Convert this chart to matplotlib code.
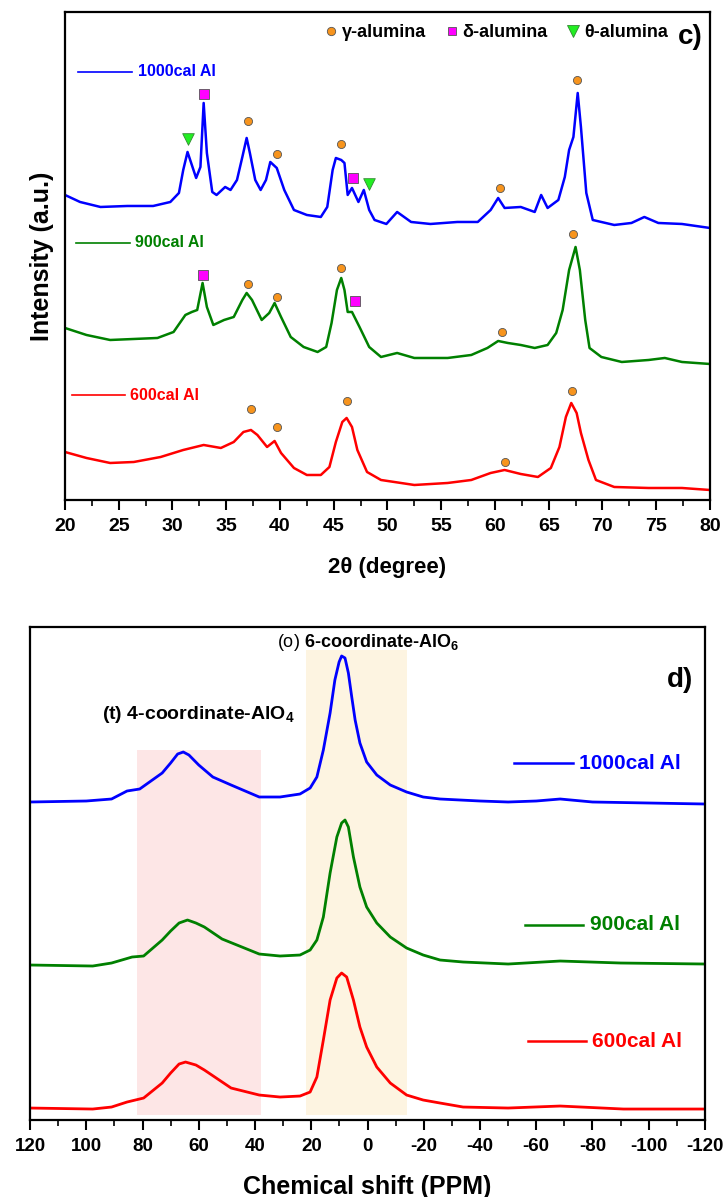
import matplotlib
matplotlib.use("Agg")
import matplotlib.pyplot as plt
from matplotlib.lines import Line2D
from matplotlib.ticker import MultipleLocator

plt.rcParams["font.family"] = ["Liberation Sans", "DejaVu Sans"]
plt.rcParams["font.weight"] = "bold"
plt.rcParams["axes.unicode_minus"] = False
plt.rcParams["mathtext.fontset"] = "custom"
plt.rcParams["mathtext.rm"] = "Liberation Sans:weight=normal"
plt.rcParams["mathtext.bf"] = "Liberation Sans:weight=bold"

# ---- XRD (panel c): 2theta [deg] and intensity [a.u., offset per sample] ----
xrd_1000_x = [20.0, 21.4, 23.3, 25.8, 28.2, 29.8, 30.6, 31.0, 31.4, 31.8, 32.2, 32.6, 32.9, 33.2,
              33.7, 34.1, 34.9, 35.4, 36.0, 36.5, 36.9, 37.2, 37.7, 38.2, 38.7, 39.1, 39.7, 40.4,
              41.3, 42.5, 43.8, 44.4, 44.9, 45.2, 45.7, 46.0, 46.3, 46.7, 47.3, 47.8, 48.3, 48.8,
              49.9, 50.9, 52.2, 54.0, 56.5, 58.4, 59.6, 60.3, 60.9, 62.4, 63.7, 64.3, 64.9, 65.9,
              66.5, 66.9, 67.3, 67.7, 68.0, 68.5, 69.1, 71.1, 72.7, 73.9, 75.2, 77.4, 80.0]
xrd_1000_y = [305, 298, 293, 294, 294, 298, 307, 330, 348, 335, 322, 333, 397, 347,
              308, 305, 313, 310, 320, 343, 362, 347, 320, 310, 320, 338, 332, 310,
              290, 285, 283, 293, 330, 342, 340, 337, 305, 312, 298, 310, 290, 280,
              276, 288, 278, 276, 278, 278, 290, 302, 292, 293, 288, 305, 292, 300,
              323, 350, 363, 407, 373, 307, 280, 275, 277, 283, 277, 276, 272]

xrd_900_x = [20.0, 22.0, 24.2, 26.4, 28.6, 30.1, 31.2, 31.8, 32.3, 32.8, 33.2, 33.8, 34.8, 35.7,
             36.5, 36.9, 37.4, 38.3, 39.0, 39.5, 40.1, 41.0, 42.2, 43.5, 44.3, 44.8, 45.3, 45.7,
             46.0, 46.3, 46.7, 47.4, 48.3, 49.4, 50.9, 52.5, 55.6, 57.8, 59.3, 60.3, 61.2, 62.4,
             63.7, 64.9, 65.7, 66.3, 66.9, 67.5, 67.9, 68.4, 68.8, 69.9, 71.8, 74.3, 75.8, 77.4, 80.0]
xrd_900_y = [172, 165, 160, 161, 162, 168, 185, 188, 190, 217, 193, 175, 180, 183,
             200, 207, 200, 180, 187, 197, 183, 163, 153, 148, 153, 177, 210, 222,
             210, 188, 188, 173, 153, 143, 147, 142, 142, 145, 152, 159, 157, 155,
             152, 155, 167, 190, 230, 253, 230, 180, 152, 143, 138, 140, 142, 138, 136]

xrd_600_x = [20.0, 22.0, 24.2, 26.4, 28.9, 31.0, 32.9, 34.5, 35.7, 36.6, 37.3, 37.9, 38.8, 39.5,
             40.1, 41.3, 42.5, 43.8, 44.6, 45.2, 45.8, 46.2, 46.7, 47.2, 48.1, 49.4, 52.5, 55.6,
             57.8, 59.6, 60.9, 62.4, 64.0, 65.2, 66.0, 66.6, 67.1, 67.6, 68.0, 68.7, 69.4, 71.1,
             74.3, 77.4, 80.0]
xrd_600_y = [48, 42, 37, 38, 43, 50, 55, 52, 58, 68, 70, 65, 53, 59,
             47, 32, 25, 25, 33, 58, 78, 82, 73, 50, 28, 20, 15, 17,
             20, 27, 30, 26, 23, 32, 53, 83, 97, 87, 67, 40, 20, 13,
             12, 12, 10]

# phase markers (2theta, intensity)
gamma_x = [37.0, 39.7, 45.7, 60.5, 67.6, 37.0, 39.7, 45.7, 60.7, 67.3, 37.3, 39.7, 46.2, 60.9, 67.2]
gamma_y = [379, 346, 356, 312, 420, 216, 203, 232, 168, 266, 91, 73, 99, 38, 109]
delta_x = [32.9, 46.8, 32.8, 47.0]
delta_y = [406, 322, 225, 199]
theta_x = [31.4, 48.3]
theta_y = [361, 316]

# ---- 27Al NMR (panel d): chemical shift [ppm] and intensity ----
nmr_1000_x = [120, 100, 91, 85.5, 81, 73, 70, 67.5, 65.5, 63.5, 60, 55, 48.5, 38.5, 31.1, 24.0,
              20.4, 18.0, 15.7, 13.3, 11.6, 10.1, 9.2, 8.0, 6.8, 5.6, 4.4, 2.7, 0.3, -3.3, -8.1,
              -13.9, -19.8, -25.8, -40, -50, -60, -68.5, -80, -100, -120]
nmr_1000_y = [318, 319, 321, 329, 331, 347, 357, 366, 368, 365, 355, 343, 335, 323, 323, 326,
              332, 343, 370, 407, 440, 458, 464, 462, 447, 423, 400, 377, 358, 345, 335,
              328, 323, 321, 319, 318, 319, 321, 318, 317, 316]

nmr_900_x = [120, 97.7, 91, 83.7, 79.6, 73, 70, 67, 64, 61, 58, 51.7, 38.5, 31.1, 24.0, 20.4,
             18.0, 15.7, 13.3, 10.9, 9.2, 8.0, 6.8, 5.0, 2.7, 0.3, -3.3, -8.1, -13.9, -19.8,
             -25.8, -34, -50, -68.5, -90, -120]
nmr_900_y = [155, 154, 157, 163, 164, 180, 189, 197, 200, 197, 193, 181, 166, 164, 165, 170,
             180, 203, 247, 283, 297, 300, 293, 263, 233, 213, 197, 183, 172, 165,
             160, 158, 156, 159, 157, 156]

nmr_600_x = [120, 97.7, 91, 85.5, 79.6, 73, 70, 67, 64.7, 61, 58, 48.5, 38.5, 31.1, 24.0, 20.4,
             18.0, 15.7, 13.3, 10.9, 9.2, 7.4, 5.0, 2.7, 0.3, -3.3, -8.1, -13.9, -19.8, -25.8,
             -34, -50, -68.5, -91, -120]
nmr_600_y = [12, 11, 13, 18, 22, 37, 47, 56, 58, 55, 50, 32, 25, 23, 24, 28,
             43, 80, 120, 142, 147, 143, 120, 93, 73, 53, 37, 25, 20, 17,
             13, 12, 14, 11, 11]

BLUE, GREEN, RED = "#0000ff", "#008000", "#ff0000"
ORANGE, MAGENTA, LIME = "#f7941d", "#ff00ff", "#22ee22"

fig = plt.figure(figsize=(7.23, 11.97), dpi=100)

#%% panel c
ax1 = fig.add_axes([0.0899, 0.5823, 0.892, 0.4077])
ax1.plot(xrd_1000_x, xrd_1000_y, color=BLUE, lw=1.8)
ax1.plot(xrd_900_x, xrd_900_y, color=GREEN, lw=1.8)
ax1.plot(xrd_600_x, xrd_600_y, color=RED, lw=1.8)
ax1.scatter(gamma_x, gamma_y, s=34, marker="o", color=ORANGE, edgecolors="#555555", linewidths=0.6, zorder=3)
ax1.scatter(delta_x, delta_y, s=44, marker="s", color=MAGENTA, edgecolors="#555555", linewidths=0.6, zorder=3)
ax1.scatter(theta_x, theta_y, s=70, marker="v", color=LIME, edgecolors="#338833", linewidths=0.6, zorder=3)

ax1.set_xlim(20, 80)
ax1.set_ylim(0, 488)
ax1.set_yticks([])
ax1.xaxis.set_major_locator(MultipleLocator(5))
ax1.xaxis.set_minor_locator(MultipleLocator(2.5))
ax1.tick_params(axis="x", which="major", direction="out", length=7, width=1.5, labelsize=14, pad=6)
ax1.tick_params(axis="x", which="minor", direction="out", length=4, width=1.2)
for s in ax1.spines.values():
    s.set_linewidth(1.6)
ax1.set_xlabel("2θ (degree)", fontsize=16, fontweight="bold", labelpad=16)
ax1.set_ylabel("Intensity (a.u.)", fontsize=18, fontweight="bold", labelpad=8)

for y, xl, xt, name, c in [(0.877, (0.020, 0.104), 0.113, "1000cal Al", BLUE),
                           (0.527, (0.017, 0.101), 0.109, "900cal Al", GREEN),
                           (0.215, (0.011, 0.093), 0.101, "600cal Al", RED)]:
    ax1.plot(xl, [y, y], transform=ax1.transAxes, color=c, lw=1.2)
    ax1.text(xt, y, name, transform=ax1.transAxes, color=c, fontsize=11.5, fontweight="bold", va="center")

handles = [Line2D([], [], ls="", marker="o", ms=6, mfc=ORANGE, mec="#555555", mew=0.6),
           Line2D([], [], ls="", marker="s", ms=6, mfc=MAGENTA, mec="#555555", mew=0.6),
           Line2D([], [], ls="", marker="v", ms=8, mfc=LIME, mec="#338833", mew=0.6)]
ax1.legend(handles, ["γ-alumina", "δ-alumina", "θ-alumina"], loc="center", bbox_to_anchor=(0.667, 0.957),
           ncol=3, frameon=False, handletextpad=0.1, columnspacing=0.9, handlelength=1.0,
           prop={"size": 13, "weight": "bold"})
ax1.text(0.969, 0.949, "c)", transform=ax1.transAxes, fontsize=20, fontweight="bold", ha="center", va="center")

#%% panel d
ax2 = fig.add_axes([0.0415, 0.0643, 0.9336, 0.4119])
ax2.axvspan(82, 38, ymin=0.01, ymax=0.75, color="#fde6e6", lw=0)
ax2.axvspan(22, -14, ymin=0.01, ymax=0.953, color="#fdf4e1", lw=0)
ax2.plot(nmr_1000_x, nmr_1000_y, color=BLUE, lw=2)
ax2.plot(nmr_900_x, nmr_900_y, color=GREEN, lw=2)
ax2.plot(nmr_600_x, nmr_600_y, color=RED, lw=2)

ax2.set_xlim(120, -120)
ax2.set_ylim(0, 493)
ax2.set_yticks([])
ax2.xaxis.set_major_locator(MultipleLocator(20))
ax2.xaxis.set_minor_locator(MultipleLocator(10))
ax2.tick_params(axis="x", which="major", direction="out", length=7, width=1.5, labelsize=13.5, pad=6)
ax2.tick_params(axis="x", which="minor", direction="out", length=4, width=1.2)
for s in ax2.spines.values():
    s.set_linewidth(1.6)
ax2.set_xlabel("Chemical shift (PPM)", fontsize=18, fontweight="bold", labelpad=14)

ax2.text(60, 405, "(t) 4-coordinate-AlO$_\\mathbf{4}$", fontsize=14, fontweight="bold", ha="center", va="center")
ax2.text(0, 477, "$\\mathrm{(o)}$ 6-coordinate-AlO$_\\mathbf{6}$", fontsize=13, fontweight="bold",
         ha="center", va="center")
ax2.text(0.963, 0.892, "d)", transform=ax2.transAxes, fontsize=20, fontweight="bold", ha="center", va="center")

for y, xl, xt, name, c in [(0.724, (0.717, 0.804), 0.813, "1000cal Al", BLUE),
                           (0.396, (0.733, 0.819), 0.830, "900cal Al", GREEN),
                           (0.160, (0.738, 0.824), 0.832, "600cal Al", RED)]:
    ax2.plot(xl, [y, y], transform=ax2.transAxes, color=c, lw=1.8)
    ax2.text(xt, y, name, transform=ax2.transAxes, color=c, fontsize=15, fontweight="bold", va="center")

fig.savefig("out.png", dpi=100)
